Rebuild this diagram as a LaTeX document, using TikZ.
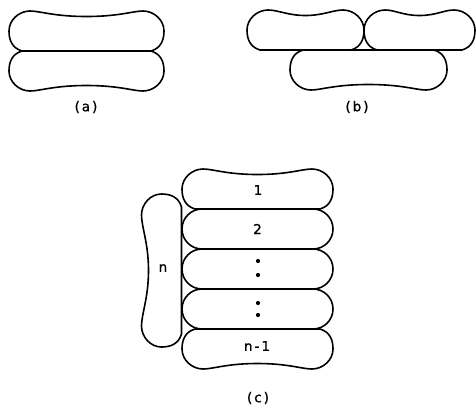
\documentclass[tikz,border=0pt]{standalone}
\usepackage{fontspec}
\setmainfont{DejaVu Sans}
\newfontfamily\lblfont[FakeBold=1]{DejaVu Sans}
\begin{document}
\begin{tikzpicture}[x=1pt,y=-1pt,
  bone/.style={draw=black,line width=1.6pt,line join=round},
  stad/.style={draw=black,line width=1.6pt,rounded corners=20pt,minimum width=151pt,minimum height=40pt,inner sep=0pt,font=\lblfont\fontsize{13.5}{15}\selectfont},
  lbl/.style={inner sep=0pt,font=\lblfont\fontsize{13.5}{15}\selectfont},
  dot/.style={fill=black},
  pics/halfbone/.style n args={4}{code={
    \draw[bone] (13,0) -- ({#1-13},0)
      .. controls ({#1-3},-3) and (#1,-11) .. (#1,-20)
      .. controls (#1,-31) and ({#1-10},-40) .. ({#1-21},-40)
      .. controls ({#1-21-#4},-40) and ({#1-21-#3},#2) .. ({#1/2},#2)
      .. controls ({21+#3},#2) and ({21+#4},-40) .. (21,-40)
      .. controls (10,-40) and (0,-31) .. (0,-20)
      .. controls (0,-11) and (3,-3) .. (13,0) -- cycle;
  }}]
\useasboundingbox (0,0) rectangle (476,405);
% (a)
\pic (at) at (9,51) {halfbone={155}{-34.5}{24}{10}};
\pic[yscale=-1] (ab) at (9,51) {halfbone={155}{-34.5}{24}{10}};
\node[lbl] (la) at (86,107) {(\kern2pt a\kern2pt)};
% (b)
\pic (btl) at (247,50) {halfbone={117}{-34.5}{20}{10}};
\pic (btr) at (364,50) {halfbone={111}{-34.5}{18}{10}};
\pic[yscale=-1] (bb) at (290,50) {halfbone={157}{-34.5}{24}{10}};
\node[lbl] (lb) at (357,107) {(\kern2pt b\kern2pt)};
% (c)
\pic (ct) at (182,209) {halfbone={151}{-34.5}{24}{10}};
\node[lbl] (c1) at (258,190) {1};
\node[stad] (s2) at (257.5,229) {2};
\node[stad] (s3) at (257.5,269) {};
\node[stad] (s4) at (257.5,309) {};
\pic[yscale=-1] (cb) at (182,329) {halfbone={151}{-34.5}{24}{10}};
\node[lbl] (cn1) at (257,346) {n\kern2pt-\kern2pt1};
\pic[rotate=90] (cn) at (181.5,347) {halfbone={153}{-33}{28}{12}};
\node[lbl] (cn0) at (163,268) {n};
\fill[dot] (258,261) circle (2.1);
\fill[dot] (258,275) circle (2.1);
\fill[dot] (258,303) circle (2.1);
\fill[dot] (258,315) circle (2.1);
\node[lbl] (lc) at (258,398) {(\kern2pt c\kern2pt)};
\end{tikzpicture}
\end{document}
